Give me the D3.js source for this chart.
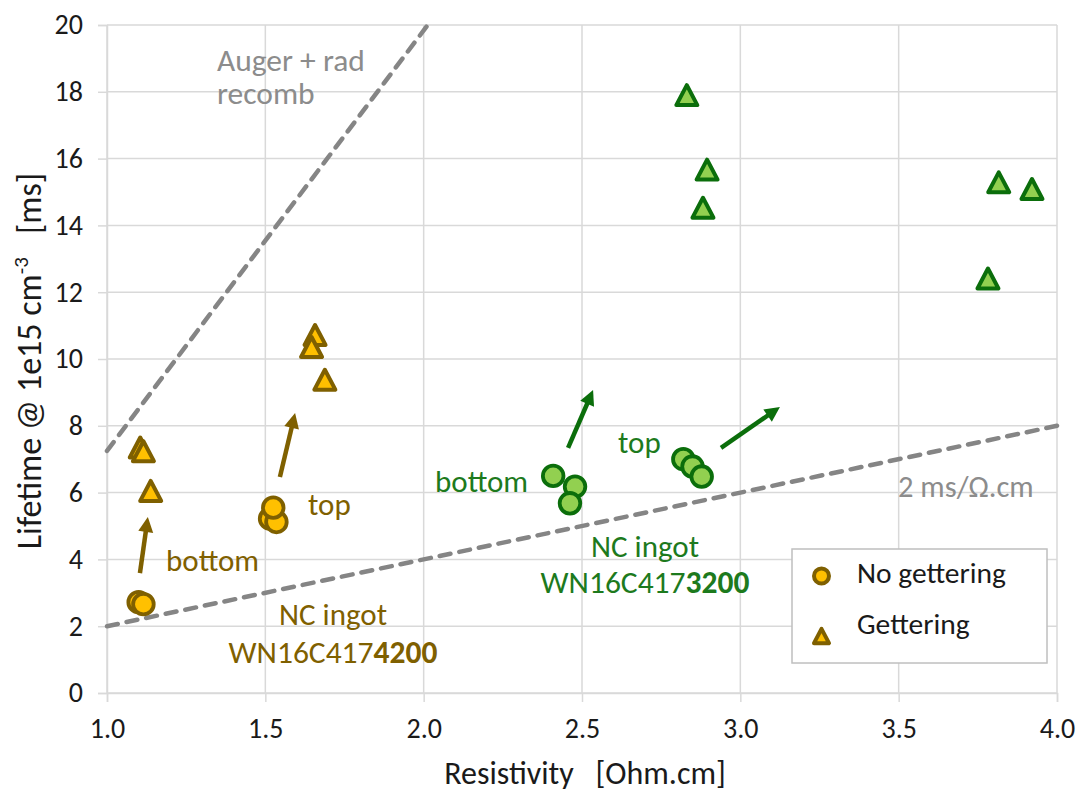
<!DOCTYPE html>
<html>
<head>
<meta charset="utf-8">
<script src="https://cdn.jsdelivr.net/npm/d3@7"></script>
<style>
  html, body { margin: 0; padding: 0; background: #fff; }
  svg text { font-family: Carlito, Lato, "Open Sans", sans-serif; white-space: pre; }
</style>
</head>
<body>
<svg id="chart" width="1078" height="792"></svg>
<script>
// ---------------- data ----------------
const xTicks = [1.0, 1.5, 2.0, 2.5, 3.0, 3.5, 4.0];
const yTicks = [0, 2, 4, 6, 8, 10, 12, 14, 16, 18, 20];

// Ingot 4200 (orange)
const orangeNoGetX = [1.100, 1.115, 1.515, 1.535, 1.525];
const orangeNoGetY = [2.72, 2.66, 5.22, 5.12, 5.55];
const orangeGetX = [1.105, 1.115, 1.138, 1.657, 1.646, 1.688];
const orangeGetY = [7.38, 7.27, 6.08, 10.75, 10.39, 9.41];

// Ingot 3200 (green)
const greenNoGetX = [2.409, 2.478, 2.462, 2.820, 2.849, 2.878];
const greenNoGetY = [6.50, 6.18, 5.68, 7.00, 6.78, 6.48];
const greenGetX = [2.831, 2.895, 2.882, 3.816, 3.921, 3.782];
const greenGetY = [17.93, 15.70, 14.56, 15.32, 15.12, 12.44];

// Reference lines
const augerX = [1.0, 2.013];
const augerY = [7.25, 20.0];
const limitX = [1.0, 4.0];
const limitY = [2.0, 8.0];   // 2 ms/Ohm.cm

// Arrows [x0, y0, x1, y1]
const orangeArrows = [[1.104, 3.59, 1.129, 5.27], [1.546, 6.47, 1.594, 8.38]];
const greenArrows = [[2.456, 7.34, 2.535, 9.07], [2.939, 7.34, 3.125, 8.56]];

// ---------------- styling ----------------
const ORANGE_FILL = "#FFC000", ORANGE_LINE = "#7F6000";
const GREEN_FILL = "#92D050", GREEN_LINE = "#0B6E0B", GREEN_TEXT = "#1D7A1D";
const GRAY = "#858585", GRID = "#d9d9d9";

const svg = d3.select("#chart");
const L = 107, R = 1057, T = 25, B = 693;
const x = d3.scaleLinear().domain([1, 4]).range([L, R]);
const y = d3.scaleLinear().domain([0, 20]).range([B, T]);

// grid
svg.append("g").selectAll("line").data(yTicks).join("line")
  .attr("x1", L).attr("x2", R).attr("y1", d => y(d)).attr("y2", d => y(d))
  .attr("stroke", GRID).attr("stroke-width", 1.5);
svg.append("g").selectAll("line").data(xTicks).join("line")
  .attr("y1", T).attr("y2", B).attr("x1", d => x(d)).attr("x2", d => x(d))
  .attr("stroke", GRID).attr("stroke-width", 1.5);

// axes
const yAxis = svg.append("g").attr("transform", `translate(${L},0)`)
  .call(d3.axisLeft(y).tickValues(yTicks).tickFormat(d3.format("d")).tickSize(9).tickPadding(15));
const xAxis = svg.append("g").attr("transform", `translate(0,${B})`)
  .call(d3.axisBottom(x).tickValues(xTicks).tickFormat(d3.format(".1f")).tickSize(9).tickPadding(16));
[yAxis, xAxis].forEach(g => {
  g.select(".domain").attr("stroke", GRID).attr("stroke-width", 1.5);
  g.selectAll(".tick line").attr("stroke", GRID).attr("stroke-width", 1.5);
  g.selectAll(".tick text").attr("fill", "#1a1a1a").style("font-size", "28px");
});

// axis titles
svg.append("text").attr("x", 585).attr("y", 784).attr("text-anchor", "middle")
  .attr("fill", "#1a1a1a").style("font-size", "32px").text("Resistivity   [Ohm.cm]");
const yt = svg.append("text").attr("transform", "translate(41,361) rotate(-90)")
  .attr("text-anchor", "middle").attr("fill", "#1a1a1a").style("font-size", "34px");
yt.append("tspan").text("Lifetime @ 1e15 cm");
yt.append("tspan").attr("dy", -13).style("font-size", "21px").text("-3");
yt.append("tspan").attr("dy", 13).text("   [ms]");

// reference lines
const line = d3.line().x(d => x(d[0])).y(d => y(d[1]));
svg.append("path").datum(d3.zip(augerX, augerY)).attr("d", line)
  .attr("fill", "none").attr("stroke", GRAY).attr("stroke-width", 4.5)
  .attr("stroke-dasharray", "11,9").attr("stroke-linecap", "round");
svg.append("path").datum(d3.zip(limitX, limitY)).attr("d", line)
  .attr("fill", "none").attr("stroke", GRAY).attr("stroke-width", 4.5)
  .attr("stroke-dasharray", "11,9").attr("stroke-linecap", "round");

// arrows
function drawArrows(data, color) {
  const g = svg.append("g");
  data.forEach(a => {
    const x0 = x(a[0]), y0 = y(a[1]), x1 = x(a[2]), y1 = y(a[3]);
    const ang = Math.atan2(y1 - y0, x1 - x0);
    const hl = 15, hw = 7.5;
    const bx = x1 - hl * Math.cos(ang), by = y1 - hl * Math.sin(ang);
    g.append("line").attr("x1", x0).attr("y1", y0).attr("x2", bx + 2 * Math.cos(ang)).attr("y2", by + 2 * Math.sin(ang))
      .attr("stroke", color).attr("stroke-width", 4.5);
    const px = -Math.sin(ang), py = Math.cos(ang);
    g.append("path").attr("d", `M${x1},${y1}L${bx + hw * px},${by + hw * py}L${bx - hw * px},${by - hw * py}Z`)
      .attr("fill", color);
  });
}
drawArrows(orangeArrows, ORANGE_LINE);
drawArrows(greenArrows, GREEN_LINE);

// markers
const triPath = (s) => `M0,${-s * 0.95}L${s},${s * 0.95}L${-s},${s * 0.95}Z`;
function circles(xs, ys, fill, stroke) {
  svg.append("g").selectAll("circle").data(d3.zip(xs, ys)).join("circle")
    .attr("cx", d => x(d[0])).attr("cy", d => y(d[1])).attr("r", 10.3)
    .attr("fill", fill).attr("stroke", stroke).attr("stroke-width", 3.8);
}
function triangles(xs, ys, fill, stroke) {
  svg.append("g").selectAll("path").data(d3.zip(xs, ys)).join("path")
    .attr("transform", d => `translate(${x(d[0])},${y(d[1]) + 1})`).attr("d", triPath(10.5))
    .attr("fill", fill).attr("stroke", stroke).attr("stroke-width", 4).attr("stroke-linejoin", "round");
}
circles(orangeNoGetX, orangeNoGetY, ORANGE_FILL, ORANGE_LINE);
triangles(orangeGetX, orangeGetY, ORANGE_FILL, ORANGE_LINE);
circles(greenNoGetX, greenNoGetY, GREEN_FILL, GREEN_LINE);
triangles(greenGetX, greenGetY, GREEN_FILL, GREEN_LINE);

// annotations
function label(px, py, txt, color, size, anchor) {
  return svg.append("text").attr("x", px).attr("y", py).attr("fill", color)
    .attr("text-anchor", anchor || "start").style("font-size", size + "px").text(txt);
}
const aug = svg.append("text").attr("x", 217).attr("y", 71).attr("fill", "#8c8c8c").style("font-size", "31.5px");
aug.append("tspan").attr("x", 217).text("Auger + rad");
aug.append("tspan").attr("x", 217).attr("dy", 33).text("recomb");
label(898, 497, "2 ms/Ω.cm", "#8c8c8c", 30.5);

label(166, 571, "bottom", ORANGE_LINE, 31);
label(308, 515, "top", ORANGE_LINE, 31);
label(333, 625, "NC ingot", ORANGE_LINE, 31, "middle");
const w1 = svg.append("text").attr("x", 333).attr("y", 663).attr("fill", ORANGE_LINE)
  .attr("text-anchor", "middle").style("font-size", "31.5px");
w1.append("tspan").text("WN16C417");
w1.append("tspan").attr("font-weight", "bold").text("4200");

label(435, 492, "bottom", GREEN_TEXT, 31);
label(618, 453, "top", GREEN_TEXT, 31);
label(645, 557, "NC ingot", GREEN_TEXT, 31, "middle");
const w2 = svg.append("text").attr("x", 645).attr("y", 593).attr("fill", GREEN_TEXT)
  .attr("text-anchor", "middle").style("font-size", "31.5px");
w2.append("tspan").text("WN16C417");
w2.append("tspan").attr("font-weight", "bold").text("3200");

// legend
const lg = svg.append("g");
lg.append("rect").attr("x", 792).attr("y", 549).attr("width", 255).attr("height", 114)
  .attr("fill", "#fff").attr("stroke", "#bfbfbf").attr("stroke-width", 1.5);
lg.append("circle").attr("cx", 821.5).attr("cy", 576).attr("r", 7.5)
  .attr("fill", ORANGE_FILL).attr("stroke", ORANGE_LINE).attr("stroke-width", 4);
lg.append("path").attr("transform", "translate(821.5,636)").attr("d", triPath(7.5))
  .attr("fill", ORANGE_FILL).attr("stroke", ORANGE_LINE).attr("stroke-width", 4).attr("stroke-linejoin", "round");
lg.append("text").attr("x", 857).attr("y", 583).attr("fill", "#1a1a1a").style("font-size", "29.5px").text("No gettering");
lg.append("text").attr("x", 857).attr("y", 634).attr("fill", "#1a1a1a").style("font-size", "29.5px").text("Gettering");
</script>
</body>
</html>
